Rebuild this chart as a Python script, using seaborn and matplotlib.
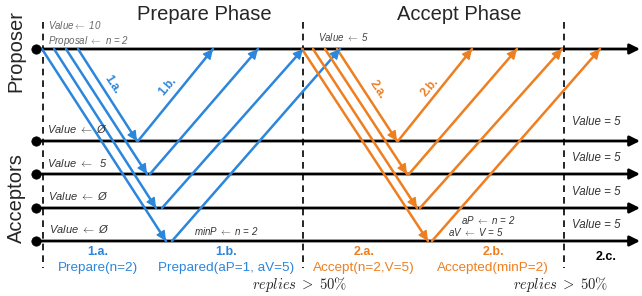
import matplotlib
matplotlib.use("Agg")

import matplotlib.pyplot as plt
import pandas as pd
import seaborn as sns

# ===========================
# Diagram data (pixel-like coords, y grows downward)
# ===========================

proposer_y = 49
acceptor_y = [141, 174, 208, 241]
phase_x = [43, 303, 564]

# one entry per acceptor (top to bottom)
prepare_send_x = [78, 66, 54, 42]
prepare_recv_x = [137, 147, 156, 166]
promise_send_x = [138, 150, 162, 172]
promise_recv_x = [213, 258, 303, 340]
accept_send_x = [337, 325, 313, 302]
accept_recv_x = [397, 407, 417, 428]
accepted_send_x = [398, 409, 420, 432]
accepted_recv_x = [472, 517, 562, 600]

phase_titles = ["Prepare Phase", "Accept Phase"]
step_ids = ["1.a.", "1.b.", "2.a.", "2.b."]
step_msgs = ["Prepare(n=2)", "Prepared(aP=1, aV=5)", "Accept(n=2,V=5)", "Accepted(minP=2)"]
ARR = r"$\leftarrow$"
acceptor_notes = [f"Value {ARR} Ø", f"Value {ARR}  5", f"Value {ARR} Ø", f"Value {ARR} Ø"]
final_notes = ["Value = 5", "Value = 5", "Value = 5", "Value = 5"]

BLUE = "#2b86dc"
ORANGE = "#ee7f20"

# ===========================
# Style
# ===========================

sns.set_theme(style="white")
plt.rcParams["font.family"] = ["Liberation Sans", "DejaVu Sans"]
plt.rcParams["mathtext.fontset"] = "cm"

fig = plt.figure(figsize=(6.42, 2.96), dpi=100)
ax = fig.add_axes([0, 0, 1, 1])

# ===========================
# Messages table
# ===========================

rows = []
msg = 0
for i, ay in enumerate(acceptor_y):
    for phase, sx, sy, ex, ey in [
        ("prepare", prepare_send_x[i], proposer_y, prepare_recv_x[i], ay),
        ("prepare", promise_send_x[i], ay, promise_recv_x[i], proposer_y),
        ("accept", accept_send_x[i], proposer_y, accept_recv_x[i], ay),
        ("accept", accepted_send_x[i], ay, accepted_recv_x[i], proposer_y),
    ]:
        rows.append({"msg": msg, "phase": phase, "x": sx, "y": sy})
        rows.append({"msg": msg, "phase": phase, "x": ex, "y": ey})
        msg += 1
msgs = pd.DataFrame(rows)

palette = {"prepare": BLUE, "accept": ORANGE}

# phase boundaries
ax.vlines(phase_x, 22, 268, colors="black", linestyles=(0, (4, 3)), lw=1.2, zorder=1)

# timelines
for y in [proposer_y] + acceptor_y:
    ax.annotate("", xy=(640, y), xytext=(36, y),
                arrowprops=dict(arrowstyle="-|>,head_length=0.6,head_width=0.3",
                                color="black", lw=2, shrinkA=0, shrinkB=0,
                                mutation_scale=10), zorder=2)

sns.scatterplot(x=[36] * 5, y=[proposer_y] + acceptor_y, color="black",
                s=45, edgecolor="black", ax=ax, zorder=6)

# message lines
sns.lineplot(data=msgs, x="x", y="y", units="msg", hue="phase",
             palette=palette, estimator=None, sort=False, lw=1.8,
             legend=False, ax=ax, zorder=3)

# arrowheads
for m, g in msgs.groupby("msg"):
    (x0, y0), (x1, y1) = g[["x", "y"]].values
    ax.annotate("", xy=(x1, y1),
                xytext=(x1 - 0.02 * (x1 - x0), y1 - 0.02 * (y1 - y0)),
                arrowprops=dict(arrowstyle="-|>,head_length=0.6,head_width=0.3",
                                color=palette[g["phase"].iloc[0]], lw=1,
                                shrinkA=0, shrinkB=0, mutation_scale=10),
                zorder=4)

# ===========================
# Text
# ===========================

ax.text(204, 15, phase_titles[0], fontsize=14.5, ha="center", va="center")
ax.text(459, 15, phase_titles[1], fontsize=14.5, ha="center", va="center")
ax.text(16, 51, "Proposer", fontsize=14.5, rotation=90, ha="center", va="center")
ax.text(16, 198, "Acceptors", fontsize=14.5, rotation=90, ha="center", va="center")

# arrow labels
ax.text(112, 85, step_ids[0], color=BLUE, fontsize=8.5, fontweight="bold",
        rotation=-57, ha="center", va="center")
ax.text(168, 86, step_ids[1], color=BLUE, fontsize=8.5, fontweight="bold",
        rotation=49, ha="center", va="center")
ax.text(377, 90, step_ids[2], color=ORANGE, fontsize=8.5, fontweight="bold",
        rotation=-57, ha="center", va="center")
ax.text(430, 87, step_ids[3], color=ORANGE, fontsize=8.5, fontweight="bold",
        rotation=49, ha="center", va="center")

# notes
ax.text(48, 25, f"Value{ARR} 10", fontsize=7, style="italic", color="#666666", va="center")
ax.text(48, 41, f"Proposal {ARR} n = 2", fontsize=7, style="italic", color="#666666", va="center")
ax.text(318, 37, f"Value {ARR} 5", fontsize=7, style="italic", color="#444444", va="center")
for x, y, t in zip([47, 47, 48, 49], [129, 163, 196, 229], acceptor_notes):
    ax.text(x, y, t, fontsize=8, style="italic", color="#333333", va="center")
for y, t in zip([122, 158, 192, 225], final_notes):
    ax.text(572, y, t, fontsize=8.3, style="italic", color="#333333", va="center")
ax.text(194, 231, f"minP {ARR} n = 2", fontsize=7, style="italic", color="#333333", va="center")
ax.text(461, 220, f"aP {ARR} n = 2", fontsize=7, style="italic", color="#333333", va="center")
ax.text(448, 232, f"aV {ARR} V = 5", fontsize=7, style="italic", color="#333333", va="center")

# bottom step labels
for x, sid, smsg, c in zip([98, 226, 364, 493], step_ids, step_msgs,
                           [BLUE, BLUE, ORANGE, ORANGE]):
    ax.text(x, 252, sid, color=c, fontsize=9, fontweight="bold", ha="center", va="center")
    ax.text(x, 268, smsg, color=c, fontsize=9.7, ha="center", va="center")
ax.text(606, 257, "2.c.", color="black", fontsize=9, fontweight="bold", ha="center", va="center")

for x in [300, 561]:
    ax.text(x, 284, r"$replies\;>\;50\%$", fontsize=10.5, ha="center", va="center")

ax.set_xlim(0, 642)
ax.set_ylim(296, 0)
ax.axis("off")

fig.savefig("out.png", dpi=100)
plt.close()
